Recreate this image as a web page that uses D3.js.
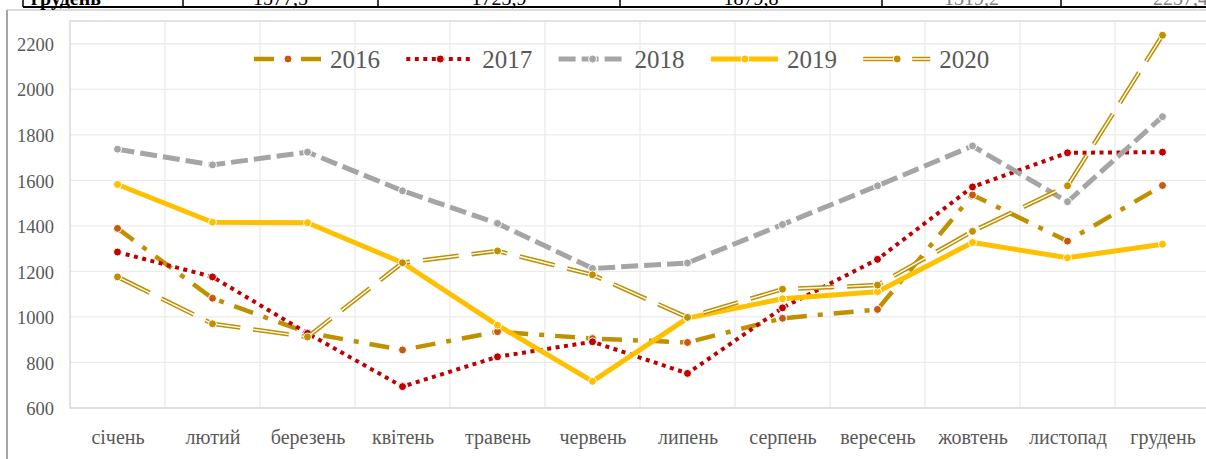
<!DOCTYPE html>
<html>
<head>
<meta charset="utf-8">
<script src="https://cdn.jsdelivr.net/npm/d3@7/dist/d3.min.js"></script>
<style>
  html, body { margin: 0; padding: 0; background: #fff; }
</style>
</head>
<body>
<svg id="chart" width="1206" height="459"></svg>
<script>
// months and yearly values
var months = ["січень", "лютий", "березень", "квітень", "травень", "червень",
              "липень", "серпень", "вересень", "жовтень", "листопад", "грудень"];
var years = ["2016", "2017", "2018", "2019", "2020"];

var v2016 = [1389, 1082, 931, 855, 935, 905, 888, 994, 1033, 1536, 1333, 1577.5];
var v2017 = [1285, 1176, 928, 694, 825, 891, 752, 1040, 1253, 1571, 1721, 1723.9];
var v2018 = [1737, 1668, 1724, 1554, 1411, 1213, 1237, 1406, 1576, 1751, 1506, 1879.8];
var v2019 = [1582, 1416, 1414, 1238, 964, 717, 995, 1080, 1111, 1327, 1260, 1319.2];
var v2020 = [1176, 970, 912, 1238, 1290, 1185, 998, 1122, 1140, 1376, 1576, 2237.4];

var yTicks = [600, 800, 1000, 1200, 1400, 1600, 1800, 2000, 2200];

// top table row (cut off above the chart)
var tableRow = ["грудень", "1577,5", "1723,9", "1879,8", "1319,2", "2237,4"];

var seriesValues = [v2016, v2017, v2018, v2019, v2020];

var serif = "'Liberation Serif', 'Times New Roman', Tinos, 'DejaVu Serif', serif";

// line styles per year
var styles = {
  "2016": { color: "#bf9000", marker: "#c55a11", width: 4.5, dash: "20,11,5,11" },
  "2017": { color: "#c00000", marker: "#c00000", width: 4, dash: "4,4.5" },
  "2018": { color: "#a5a5a5", marker: "#a5a5a5", width: 5, dash: "17,6" },
  "2019": { color: "#ffc000", marker: "#ffc000", width: 5, dash: null },
  "2020": { color: "#bf9000", marker: "#bf9000", width: 4.5, dash: "36,13", dbl: true }
};

var svg = d3.select("#chart").style("font-family", serif);
var margin = { left: 70, top: 21, right: 1210, bottom: 408 };

// frame around the chart object
svg.append("line").attr("x1", 7).attr("x2", 1206).attr("y1", 10).attr("y2", 10)
  .attr("stroke", "#d0d0d0").attr("stroke-width", 1.5);
svg.append("line").attr("x1", 7).attr("x2", 7).attr("y1", 10).attr("y2", 459)
  .attr("stroke", "#a6a6a6").attr("stroke-width", 2);

// table fragment
var tableCols = [23, 183, 378, 620, 882, 1061];
var tbl = svg.append("g");
tableRow.forEach(function (t, i) {
  var x0 = tableCols[i], x1 = (i < tableCols.length - 1) ? tableCols[i + 1] : 1300;
  tbl.append("text")
    .attr("x", i === 0 ? x0 + 8 : (x0 + x1) / 2)
    .attr("y", 5)
    .attr("text-anchor", i === 0 ? "start" : "middle")
    .style("font-family", serif)
    .style("font-size", "20px")
    .style("font-weight", i === 0 ? "bold" : "normal")
    .attr("fill", i >= 4 ? "#7f7f7f" : "#000")
    .text(t);
});
tbl.append("line").attr("x1", 23).attr("x2", 1206).attr("y1", 7).attr("y2", 7)
  .attr("stroke", "#000").attr("stroke-width", 2);
tableCols.forEach(function (c) {
  tbl.append("line").attr("x1", c).attr("x2", c).attr("y1", 0).attr("y2", 7)
    .attr("stroke", "#000").attr("stroke-width", 1.5);
});

var x = d3.scalePoint().domain(months).range([margin.left + 47.5, margin.right - 47.5]);
var y = d3.scaleLinear().domain([600, 2300]).range([margin.bottom, margin.top]);
var step = x.step();

// gridlines
var grid = svg.append("g");
yTicks.forEach(function (t) {
  grid.append("line").attr("x1", margin.left).attr("x2", margin.right)
    .attr("y1", y(t)).attr("y2", y(t)).attr("stroke", "#ebebeb").attr("stroke-width", 1.3);
});
months.forEach(function (m, i) {
  if (i === 0) return;
  var gx = x(m) - step / 2;
  grid.append("line").attr("x1", gx).attr("x2", gx)
    .attr("y1", margin.top).attr("y2", margin.bottom).attr("stroke", "#ebebeb").attr("stroke-width", 1.3);
});

// plot border
svg.append("path")
  .attr("d", "M" + margin.right + "," + margin.top + "H" + margin.left + "V" + margin.bottom + "H" + margin.right)
  .attr("fill", "none").attr("stroke", "#d9d9d9").attr("stroke-width", 1.5);

// axes
var yAxis = d3.axisLeft(y).tickValues(yTicks).tickFormat(d3.format("d")).tickSize(0).tickPadding(0);
var gy = svg.append("g").attr("transform", "translate(54,0)").call(yAxis);
gy.attr("font-family", null);
gy.select(".domain").remove();
gy.selectAll("text").style("font-family", serif).style("font-size", "18.5px")
  .attr("fill", "#595959").attr("dy", "0.36em");

var xAxis = d3.axisBottom(x).tickSize(0).tickPadding(0);
var gx = svg.append("g").attr("transform", "translate(0,430)").call(xAxis);
gx.attr("font-family", null);
gx.select(".domain").remove();
gx.selectAll("text").style("font-family", serif).style("font-size", "20px")
  .attr("fill", "#595959").attr("dy", "0.71em");

// series
var line = d3.line().x(function (d, i) { return x(months[i]); }).y(function (d) { return y(d); });

years.forEach(function (yr, k) {
  var st = styles[yr];
  var g = svg.append("g");
  var vals = seriesValues[k];
  g.append("path").datum(vals).attr("d", line)
    .attr("fill", "none").attr("stroke", st.color).attr("stroke-width", st.width)
    .attr("stroke-dasharray", st.dash).attr("stroke-linejoin", "round");
  if (st.dbl) {
    g.append("path").datum(vals).attr("d", line)
      .attr("fill", "none").attr("stroke", "#fff").attr("stroke-width", 1.4)
      .attr("stroke-dasharray", st.dash);
  }
  g.selectAll("circle").data(vals).enter().append("circle")
    .attr("cx", function (d, i) { return x(months[i]); })
    .attr("cy", function (d) { return y(d); })
    .attr("r", 4).attr("fill", st.marker).attr("stroke", "#fff").attr("stroke-width", 1);
});

// legend
var legend = svg.append("g");
years.forEach(function (yr, k) {
  var st = styles[yr];
  var lx = 254 + k * 152.3, ly = 59;
  var item = legend.append("g");
  item.append("line").attr("x1", lx).attr("x2", lx + 67).attr("y1", ly).attr("y2", ly)
    .attr("stroke", st.color).attr("stroke-width", st.width).attr("stroke-dasharray", st.dash);
  if (st.dbl) {
    item.append("line").attr("x1", lx).attr("x2", lx + 67).attr("y1", ly).attr("y2", ly)
      .attr("stroke", "#fff").attr("stroke-width", 1.4).attr("stroke-dasharray", st.dash);
  }
  item.append("circle").attr("cx", lx + 34).attr("cy", ly).attr("r", 4)
    .attr("fill", st.marker).attr("stroke", "#fff").attr("stroke-width", 1);
  item.append("text").attr("x", lx + 76).attr("y", ly).attr("dy", "0.35em")
    .style("font-family", serif).style("font-size", "25px").attr("fill", "#595959").text(yr);
});
</script>
</body>
</html>
